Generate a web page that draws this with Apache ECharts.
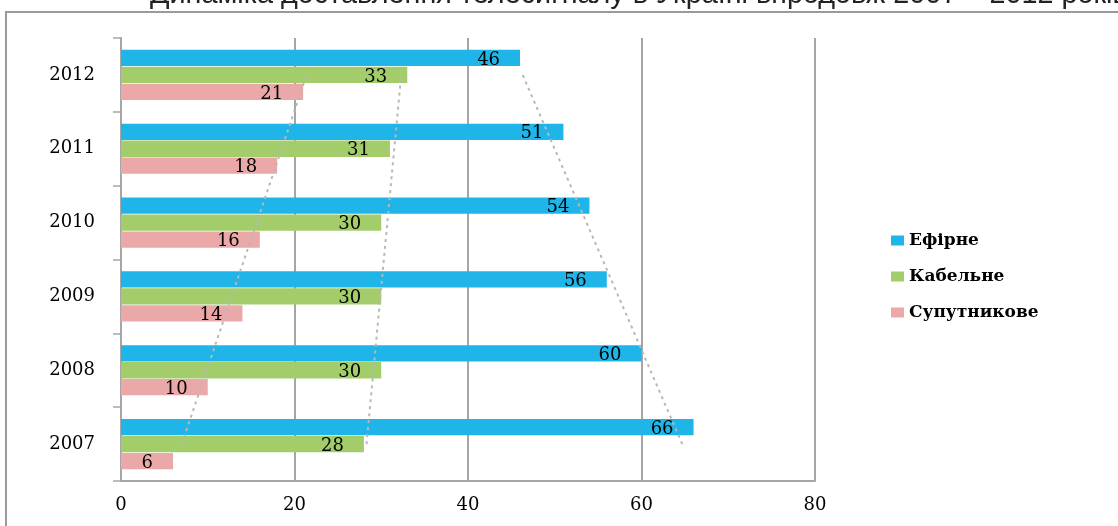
<!DOCTYPE html>
<html>
<head>
<meta charset="utf-8">
<script src="https://cdn.jsdelivr.net/npm/echarts@6.0.0/dist/echarts.min.js"></script>
<style>
  html, body { margin: 0; padding: 0; background: #fff; }
  #chart { width: 1118px; height: 526px; }
</style>
</head>
<body>
<div id="chart"></div>
<script>
// дані
const years = ['2007', '2008', '2009', '2010', '2011', '2012'];
const efirne = [66, 60, 56, 54, 51, 46];
const kabelne = [28, 30, 30, 30, 31, 33];
const suputnykove = [6, 10, 14, 16, 18, 21];
const seriesNames = ['Ефірне', 'Кабельне', 'Супутникове'];
const xTicks = [0, 20, 40, 60, 80];
// лінії тренду: значення на 2007 і 2012
const trendFrom = [64.7, 28.3, 7.0];
const trendTo = [46.3, 32.3, 21.4];

const colors = ['#1FB5E9', '#A2CD6A', '#EAA9A8'];
const serif = 'DejaVu Serif';

const chart = echarts.init(document.getElementById('chart'), null, { renderer: 'canvas' });

const barSeries = (name, data, color) => ({
    name,
    type: 'bar',
    data,
    barGap: '4%',
    barCategoryGap: '32%',
    itemStyle: { color },
    label: {
        show: true,
        position: 'insideRight',
        distance: 20,
        offset: [0, 2],
        color: '#000',
        fontFamily: serif,
        fontSize: 18,
    },
});

const trendSeries = (i) => ({
    name: 'trend' + i,
    type: 'line',
    data: years.map((y, k) => k === 0 ? trendFrom[i] : (k === years.length - 1 ? trendTo[i] : '-')),
    connectNulls: true,
    symbol: 'none',
    silent: true,
    z: 5,
    lineStyle: { color: '#b8b8b8', width: 2, type: [3, 4] },
});

chart.setOption({
    animation: false,
    title: {
        text: 'Динаміка доставлення телесигналу в Україні впродовж 2007 – 2012 років',
        left: 145,
        top: -24,
        textStyle: { fontFamily: 'Liberation Sans', fontSize: 28.8, fontWeight: 'normal', color: '#222' },
    },
    graphic: [{
        type: 'rect',
        shape: { x: 6, y: 12, width: 1300, height: 700 },
        style: { fill: 'none', stroke: '#9a9a9a', lineWidth: 2 },
        silent: true,
    }],
    legend: {
        data: seriesNames,
        orient: 'vertical',
        left: 886,
        top: 227,
        itemWidth: 13,
        itemHeight: 10,
        itemGap: 19,
        icon: 'rect',
        textStyle: { fontFamily: serif, fontSize: 17, fontWeight: 'bold', color: '#000' },
    },
    grid: { left: 121, right: 303, top: 38, bottom: 45, containLabel: false },
    xAxis: {
        type: 'value',
        min: xTicks[0],
        max: xTicks[xTicks.length - 1],
        interval: 20,
        axisLine: { show: true, lineStyle: { color: '#a6a6a6', width: 2 } },
        axisTick: { show: false },
        axisLabel: { margin: 15, color: '#000', fontFamily: serif, fontSize: 18 },
        splitLine: { show: true, lineStyle: { color: '#a6a6a6', width: 2 } },
    },
    yAxis: {
        type: 'category',
        data: years,
        axisLine: { show: true, lineStyle: { color: '#a6a6a6', width: 2 } },
        axisTick: { show: true, length: 8, lineStyle: { color: '#a6a6a6', width: 1.5 } },
        axisLabel: { margin: 26, color: '#000', fontFamily: serif, fontSize: 18 },
    },
    series: [
        barSeries(seriesNames[0], efirne, colors[0]),
        barSeries(seriesNames[1], kabelne, colors[1]),
        barSeries(seriesNames[2], suputnykove, colors[2]),
        trendSeries(0),
        trendSeries(1),
        trendSeries(2),
    ],
});

window.addEventListener('resize', () => chart.resize());
</script>
</body>
</html>
